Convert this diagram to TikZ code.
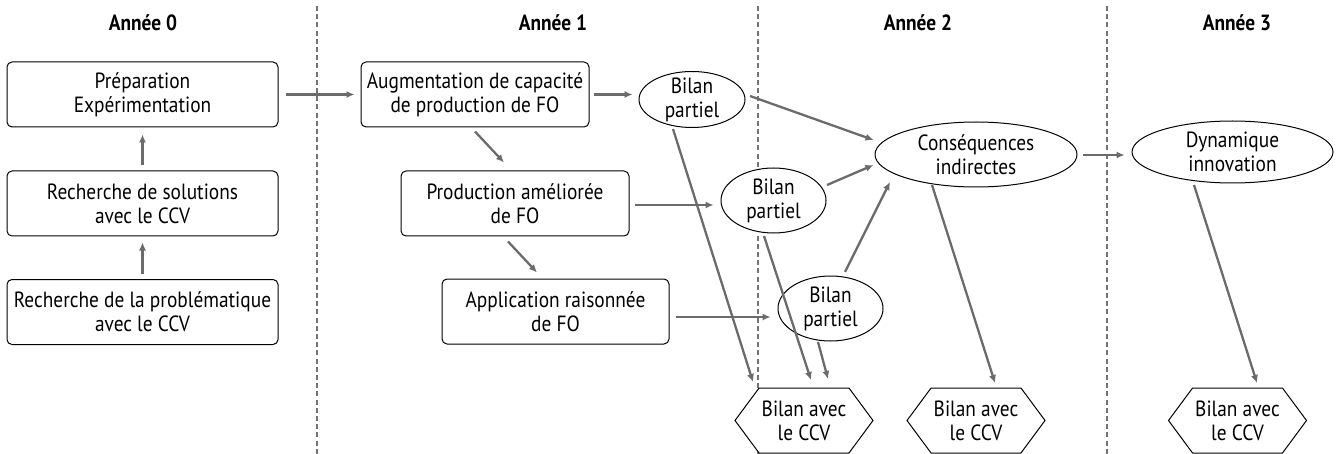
\documentclass[tikz,border=0pt]{standalone}
\usepackage{fontspec}
\setmainfont{PT Sans}[FakeStretch=0.88]
\usetikzlibrary{shapes.geometric,shapes.symbols,arrows.meta,calc}
\begin{document}
\begin{tikzpicture}[x=0.5pt,y=-0.5pt,
  every node/.style={font=\fontsize{11}{12}\selectfont},
  box/.style={draw,line width=0.5pt,rounded corners=2.5pt,inner sep=0pt,align=center,fill=white,minimum height=32.5pt},
  ell/.style={ellipse,draw,line width=0.5pt,inner sep=-3pt,align=center,fill=white},
  hexa/.style={signal,signal to=west and east,signal pointer angle=107,draw,line width=0.5pt,inner sep=0pt,align=center,fill=white,minimum width=69pt,minimum height=32.5pt},
  hdr/.style={font=\fontsize{11}{12}\selectfont\bfseries},
  arr/.style={draw=black!58,line width=1.15pt,-{Latex[length=4pt,width=3.6pt]}},
  sep/.style={draw=black!55,line width=1.1pt,dash pattern=on 2.5pt off 1.6pt}]
\useasboundingbox (0,0) rectangle (1337,454);
% separators
\draw[sep] (317,6) -- (317,454);
\draw[sep] (758,6) -- (758,454);
\draw[sep] (1107,6) -- (1107,454);
% headers
\node[hdr] (h0) at (143,23) {Année 0};
\node[hdr] (h1) at (553,23) {Année 1};
\node[hdr] (h2) at (918,23) {Année 2};
\node[hdr] (h3) at (1237,23) {Année 3};
% year 0
\node[box,minimum width=135.5pt] (b1) at (142.5,94.5) {Préparation\\Expérimentation};
\node[box,minimum width=135.5pt] (b2) at (142.5,203.5) {Recherche de solutions\\avec le CCV};
\node[box,minimum width=135.5pt] (b3) at (142.5,312) {Recherche de la problématique\\avec le CCV};
% year 1
\node[box,minimum width=114pt] (aug) at (475,94.5) {Augmentation de capacité\\de production de FO};
\node[box,minimum width=114pt] (prod) at (515,203.5) {Production améliorée\\de FO};
\node[box,minimum width=113.5pt] (appl) at (555.5,311.5) {Application raisonnée\\de FO};
% bilans
\node[ell,minimum width=53pt,minimum height=28pt] (bl1) at (692,99.5) {Bilan\\partiel};
\node[ell,minimum width=52.5pt,minimum height=32.5pt] (bl2) at (773.5,200.5) {Bilan\\partiel};
\node[ell,minimum width=52.5pt,minimum height=32.5pt] (bl3) at (830.5,308.5) {Bilan\\partiel};
\node[ell,minimum width=101pt,minimum height=32.5pt] (cons) at (976,154.5) {Conséquences\\indirectes};
\node[ell,minimum width=100.5pt,minimum height=31pt] (dyn) at (1232.5,152) {Dynamique\\innovation};
% hexagons
\node[hexa] (x1) at (804,420.5) {Bilan avec\\le CCV};
\node[hexa] (x2) at (976,420.5) {Bilan avec\\le CCV};
\node[hexa] (x3) at (1237.5,420.5) {Bilan avec\\le CCV};
% arrows
\draw[arr] ($(b3.north)+(0,-5)$) -- ($(b2.south)+(0,6)$);
\draw[arr] ($(b2.north)+(0,-5)$) -- ($(b1.south)+(0,7)$);
\draw[arr] ($(b1.east)+(7,0)$) -- ($(aug.west)+(-6,0)$);
\draw[arr] ($(aug.east)+(4,0)$) -- ($(bl1.west)+(-6,-5)$);
\draw[arr] ($(aug.south)+(0,4)$) -- ($(prod.north)+(-11,-8)$);
\draw[arr] ($(prod.south)+(-7,5)$) -- ($(appl.north)+(-18.5,-6)$);
\draw[arr] ($(prod.east)+(5,1.5)$) -- ($(bl2.west)+(-7,4.5)$);
\draw[arr] ($(appl.east)+(6,5.5)$) -- ($(bl3.west)+(-7,8.5)$);
\draw[arr] ($(bl1.center)+(58,-3.5)$) -- ($(cons.west)+(-1,-14.5)$);
\draw[arr] ($(bl2.center)+(53.5,-15.5)$) -- ($(cons.west)+(-1,10.5)$);
\draw[arr] ($(bl3.center)+(14.5,-36.5)$) -- ($(cons.center)+(-86,27.5)$);
\draw[arr] ($(bl1.center)+(-19,29.5)$) -- ($(x1.center)+(-51,-38.5)$);
\draw[arr] ($(bl2.center)+(-9.5,35.5)$) -- ($(x1.center)+(7,-40.5)$);
\draw[arr] ($(bl3.center)+(-12.5,33.5)$) -- ($(x1.center)+(24,-41.5)$);
\draw[arr] ($(cons.center)+(-44,30.5)$) -- ($(x2.center)+(19,-37.5)$);
\draw[arr] ($(cons.east)+(5,0.5)$) -- ($(dyn.west)+(-7,3)$);
\draw[arr] ($(dyn.center)+(-38.5,33)$) -- ($(x3.center)+(19.5,-37.5)$);
\end{tikzpicture}
\end{document}
